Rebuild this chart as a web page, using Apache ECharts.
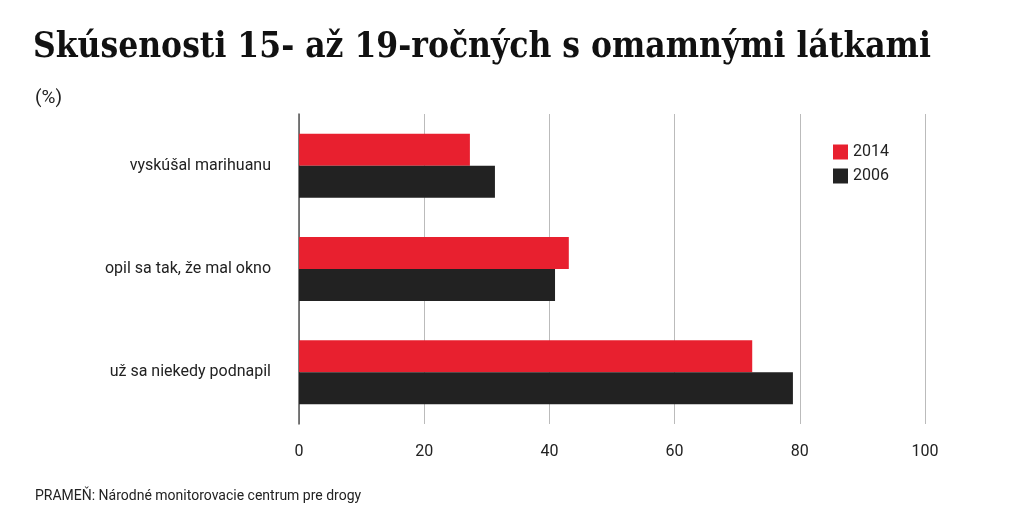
<!DOCTYPE html>
<html><head><meta charset="utf-8">
<script src="https://cdn.jsdelivr.net/npm/echarts@6/dist/echarts.min.js"></script>
<style>html,body{margin:0;padding:0;background:#fff}#c{width:1024px;height:528px}</style>
</head><body><div id="c"></div>
<script>
const categories = ['vyskúšal marihuanu', 'opil sa tak, že mal okno', 'už sa niekedy podnapil'];
const values2014 = [27.3, 43.1, 72.4];
const values2006 = [31.3, 40.9, 78.9];
const xTicks = [0, 20, 40, 60, 80, 100];

const chart = echarts.init(document.getElementById('c'));
chart.setOption({
  animation: false,
  title: [
    {text: 'Skúsenosti 15- až 19-ročných s omamnými látkami', left: 28, top: 25,
     textStyle: {fontFamily: 'DejaVu Serif Condensed, DejaVu Serif', fontWeight: 'bold', fontSize: 35, color: '#111'}},
    {text: '(%)', left: 30, top: 84, textStyle: {fontFamily: 'Roboto', fontWeight: 'normal', fontSize: 19, color: '#222'}},
    {text: 'PRAMEŇ: Národné monitorovacie centrum pre drogy', left: 30, top: 484,
     textStyle: {fontFamily: 'Roboto', fontWeight: 'normal', fontSize: 14, color: '#222'}}
  ],
  legend: {orient: 'vertical', left: 828, top: 139, itemWidth: 15, itemHeight: 15, itemGap: 8,
    textStyle: {fontFamily: 'Roboto', fontSize: 16, color: '#222'},
    data: [{name: '2014', icon: 'rect'}, {name: '2006', icon: 'rect'}]},
  grid: {left: 299, right: 99, top: 114, bottom: 104},
  xAxis: {type: 'value', min: 0, max: 100, interval: 20,
    axisLine: {show: false}, axisTick: {show: false},
    splitLine: {lineStyle: {color: '#bbb', width: 1}},
    axisLabel: {fontFamily: 'Roboto', fontSize: 16, color: '#222', margin: 20,
      formatter: v => xTicks.includes(v) ? String(v) : ''}},
  yAxis: {type: 'category', inverse: true, data: categories,
    axisLine: {show: true, lineStyle: {color: '#555', width: 1.5}}, axisTick: {show: false},
    axisLabel: {fontFamily: 'Roboto', fontSize: 16, color: '#222', margin: 28}},
  series: [
    {name: '2014', type: 'bar', data: values2014, itemStyle: {color: '#e8202f'}, barGap: '0%', barCategoryGap: '38%'},
    {name: '2006', type: 'bar', data: values2006, itemStyle: {color: '#222222'}, barGap: '0%', barCategoryGap: '38%'}
  ]
});
</script></body></html>
